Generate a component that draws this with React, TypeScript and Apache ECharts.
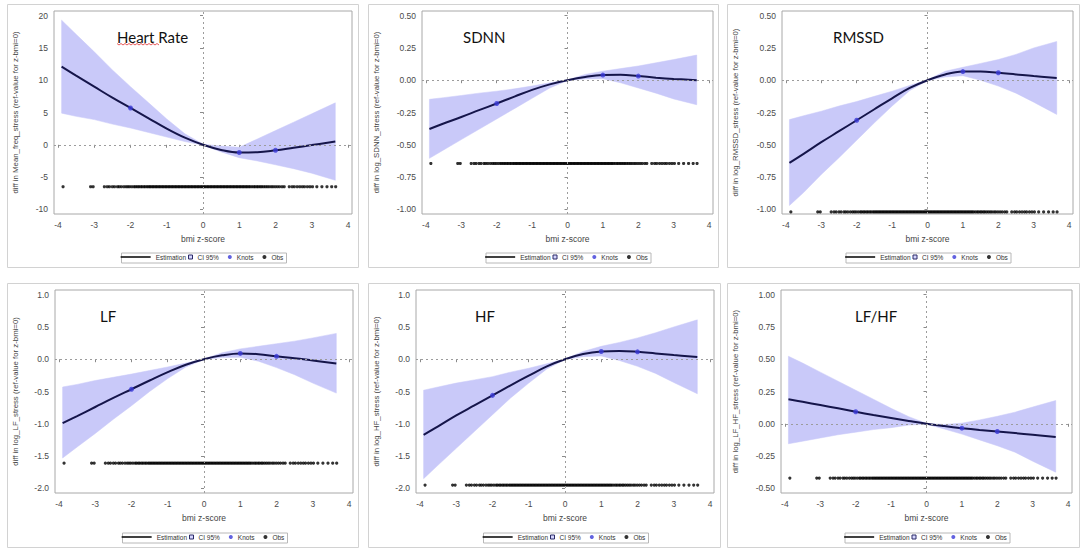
import React, { useEffect, useRef } from "react";
import * as echarts from "echarts";

// ---------- data ----------
const xGrid = [-3.9, -3.5, -3, -2.5, -2, -1.5, -1, -0.5, 0, 0.5, 1, 1.5, 2, 2.5, 3, 3.65];
const knotX = [-2, 1, 2];
const xTicks = [-4, -3, -2, -1, 0, 1, 2, 3, 4];

const panelTitles = ["Heart Rate", "SDNN", "RMSSD", "LF", "HF", "LF/HF"];
const yNames = [
  "diff in Mean_freq_stress (ref-value for z-bmi=0)",
  "diff in log_SDNN_stress (ref-value for z-bmi=0)",
  "diff in log_RMSSD_stress (ref-value for z-bmi=0)",
  "diff in log_LF_stress (ref-value for z-bmi=0)",
  "diff in log_HF_stress (ref-value for z-bmi=0)",
  "diff in log_LF_HF_stress (ref-value for z-bmi=0)",
];

// Heart rate
const hrEst = [12.1, 10.7, 9.0, 7.3, 5.7, 4.1, 2.5, 1.1, 0, -0.8, -1.2, -1.15, -0.85, -0.45, -0.05, 0.5];
const hrUpper = [19.3, 17.1, 14.4, 11.6, 9.0, 6.5, 4.0, 1.7, 0.1, -0.2, -0.4, 0.9, 2.2, 3.5, 4.8, 6.5];
const hrLower = [4.9, 4.4, 3.9, 3.2, 2.6, 1.9, 1.2, 0.5, -0.05, -1.1, -2.0, -2.5, -3.1, -3.7, -4.4, -5.5];
const hrKnots = [5.7, -1.2, -0.85];
const hrObsY = -6.5;
const hrTicks = [-10, -5, 0, 5, 10, 15, 20];

// SDNN
const sdEst = [-0.378, -0.335, -0.285, -0.232, -0.18, -0.127, -0.075, -0.032, 0, 0.025, 0.04, 0.042, 0.032, 0.02, 0.01, 0.0];
const sdUpper = [-0.148, -0.135, -0.118, -0.1, -0.085, -0.067, -0.045, -0.02, 0.002, 0.045, 0.07, 0.09, 0.11, 0.135, 0.16, 0.195];
const sdLower = [-0.605, -0.54, -0.46, -0.38, -0.3, -0.22, -0.14, -0.06, -0.002, 0.01, 0.012, -0.02, -0.06, -0.1, -0.145, -0.19];
const sdKnots = [-0.18, 0.04, 0.032];
const sdObsY = -0.645;
const sdTicks = [-1, -0.75, -0.5, -0.25, 0, 0.25, 0.5];

// RMSSD
const rmEst = [-0.64, -0.57, -0.48, -0.395, -0.31, -0.225, -0.14, -0.06, 0, 0.045, 0.067, 0.068, 0.058, 0.045, 0.032, 0.018];
const rmUpper = [-0.305, -0.275, -0.24, -0.2, -0.165, -0.125, -0.085, -0.04, 0.003, 0.07, 0.1, 0.13, 0.16, 0.2, 0.25, 0.3];
const rmLower = [-0.97, -0.87, -0.73, -0.6, -0.465, -0.33, -0.2, -0.08, -0.003, 0.025, 0.035, 0.0, -0.045, -0.1, -0.17, -0.265];
const rmKnots = [-0.31, 0.067, 0.058];
const rmObsY = -1.02;
const rmTicks = [-1, -0.75, -0.5, -0.25, 0, 0.25, 0.5];

// LF
const lfEst = [-0.99, -0.88, -0.74, -0.6, -0.465, -0.33, -0.2, -0.085, 0, 0.06, 0.09, 0.078, 0.045, 0.015, -0.02, -0.065];
const lfUpper = [-0.43, -0.39, -0.33, -0.28, -0.23, -0.175, -0.12, -0.06, 0.005, 0.1, 0.16, 0.2, 0.24, 0.28, 0.33, 0.4];
const lfLower = [-1.53, -1.36, -1.15, -0.93, -0.72, -0.5, -0.3, -0.12, -0.005, 0.025, 0.03, -0.03, -0.13, -0.24, -0.37, -0.525];
const lfKnots = [-0.465, 0.09, 0.045];
const lfObsY = -1.61;
const lfTicks = [-2, -1.5, -1, -0.5, 0, 0.5, 1];

// HF
const hfEst = [-1.17, -1.04, -0.87, -0.715, -0.56, -0.405, -0.255, -0.11, 0, 0.08, 0.12, 0.128, 0.115, 0.09, 0.065, 0.035];
const hfUpper = [-0.48, -0.43, -0.37, -0.32, -0.27, -0.2, -0.14, -0.07, 0.005, 0.12, 0.2, 0.26, 0.33, 0.41, 0.5, 0.61];
const hfLower = [-1.85, -1.64, -1.38, -1.12, -0.86, -0.6, -0.37, -0.15, -0.005, 0.04, 0.05, -0.02, -0.11, -0.22, -0.36, -0.535];
const hfKnots = [-0.56, 0.12, 0.115];
const hfObsY = -1.95;
const hfTicks = [-2, -1.5, -1, -0.5, 0, 0.5, 1];

// LF/HF
const lhEst = [0.19, 0.17, 0.145, 0.12, 0.093, 0.068, 0.045, 0.022, 0, -0.018, -0.034, -0.048, -0.06, -0.072, -0.085, -0.103];
const lhUpper = [0.523, 0.47, 0.4, 0.33, 0.26, 0.19, 0.12, 0.055, 0.003, -0.005, 0.005, 0.03, 0.058, 0.09, 0.13, 0.18];
const lhLower = [-0.155, -0.135, -0.11, -0.085, -0.065, -0.045, -0.03, -0.01, -0.003, -0.04, -0.08, -0.125, -0.17, -0.22, -0.29, -0.375];
const lhKnots = [0.093, -0.034, -0.06];
const lhObsY = -0.42;
const lhTicks = [-0.5, -0.25, 0, 0.25, 0.5, 0.75, 1];

// observed bmi z-scores (same subjects in every panel)
const obsX = [
  -3.86, -3.1, -3.03, -2.72, -2.64, -2.58, -2.5, -2.44, -2.36, -2.31, -2.25, -2.18, -2.12, -2.07,
  -2.02, -1.96, -1.9, -1.86, -1.81, -1.77, -1.72, -1.68, -1.63, -1.59, -1.54, -1.5, -1.46, -1.42,
  -1.38, -1.34, -1.3, -1.26, -1.22, -1.18, -1.14, -1.1, -1.06, -1.02, -0.98, -0.94, -0.9, -0.86,
  -0.82, -0.78, -0.74, -0.7, -0.66, -0.62, -0.58, -0.54, -0.5, -0.46, -0.42, -0.38, -0.34, -0.3,
  -0.26, -0.22, -0.18, -0.14, -0.1, -0.06, -0.02, 0.02, 0.06, 0.1, 0.14, 0.18, 0.22, 0.26, 0.3,
  0.34, 0.38, 0.42, 0.46, 0.5, 0.54, 0.58, 0.62, 0.66, 0.7, 0.74, 0.78, 0.82, 0.86, 0.9, 0.94,
  0.98, 1.02, 1.06, 1.1, 1.14, 1.18, 1.22, 1.26, 1.3, 1.35, 1.4, 1.44, 1.49, 1.53, 1.58, 1.62,
  1.67, 1.72, 1.77, 1.82, 1.88, 1.93, 1.99, 2.05, 2.11, 2.18, 2.24, 2.38, 2.46, 2.52, 2.6, 2.67,
  2.74, 2.8, 2.88, 2.95, 3.02, 3.14, 3.28, 3.42, 3.55, 3.66,
];

const panels = [
  { est: hrEst, upper: hrUpper, lower: hrLower, knots: hrKnots, obsY: hrObsY, ticks: hrTicks, dec: 0 },
  { est: sdEst, upper: sdUpper, lower: sdLower, knots: sdKnots, obsY: sdObsY, ticks: sdTicks, dec: 2 },
  { est: rmEst, upper: rmUpper, lower: rmLower, knots: rmKnots, obsY: rmObsY, ticks: rmTicks, dec: 2 },
  { est: lfEst, upper: lfUpper, lower: lfLower, knots: lfKnots, obsY: lfObsY, ticks: lfTicks, dec: 1 },
  { est: hfEst, upper: hfUpper, lower: hfLower, knots: hfKnots, obsY: hfObsY, ticks: hfTicks, dec: 1 },
  { est: lhEst, upper: lhUpper, lower: lhLower, knots: lhKnots, obsY: lhObsY, ticks: lhTicks, dec: 2 },
];

// ---------- layout ----------
const W = 1084;
const H = 550;
const frames = [
  [54, 11, 352, 214],
  [422, 11, 713, 214],
  [782, 11, 1073, 214],
  [55, 290, 353, 493],
  [416, 290, 714, 493],
  [781, 290, 1072, 493],
];
const outers = [
  [7, 4, 358, 267],
  [368, 4, 718, 267],
  [727, 4, 1079, 267],
  [7, 283, 358, 547],
  [368, 283, 720, 547],
  [727, 283, 1079, 547],
];
const titlePos = [
  [117, 37],
  [463, 37],
  [833, 37],
  [100, 316],
  [475, 316],
  [855, 316],
];
const legendCenterY = [257.5, 257.5, 257.5, 537.5, 537.5, 537.5];

const FONT = "'Liberation Sans', Arial, sans-serif";
const BAND = "#c9c9f9";
const LINE = "#15154a";
const KNOT = "#3b3bd8";

function buildOption() {
  const grid: any[] = [];
  const xAxis: any[] = [];
  const yAxis: any[] = [];
  const series: any[] = [];
  const legend: any[] = [];
  const title: any[] = [];
  const graphic: any[] = [];

  panels.forEach((p, i) => {
    const [l, t, r, b] = frames[i];
    const [ol, ot, or, ob] = outers[i];
    const fc = (l + r) / 2;
    const yMin = p.ticks[0];
    const yMax = p.ticks[p.ticks.length - 1];
    const yPad = (yMax - yMin) * 0.024;

    grid.push({
      left: l,
      top: t,
      width: r - l,
      height: b - t,
      show: true,
      borderColor: "#a8a8a8",
      borderWidth: 1,
      backgroundColor: "transparent",
    });

    xAxis.push({
      gridIndex: i,
      type: "value",
      min: -4.11,
      max: 4.11,
      axisLine: { show: false },
      splitLine: { show: false },
      axisTick: { show: true, customValues: xTicks, length: 3, lineStyle: { color: "#8a8a8a" } },
      axisLabel: {
        customValues: xTicks,
        fontSize: 8.5,
        color: "#4a4a4a",
        fontFamily: FONT,
        margin: 6,
        formatter: (v: number) => String(v),
      },
      name: "bmi z-score",
      nameLocation: "middle",
      nameGap: 20,
      nameTextStyle: { fontSize: 8.5, color: "#444", fontFamily: FONT },
    });

    const nameGap = l - (ol + 8) - 4;
    yAxis.push({
      gridIndex: i,
      type: "value",
      min: yMin - yPad,
      max: yMax + yPad,
      axisLine: { show: false },
      splitLine: { show: false },
      axisTick: { show: true, customValues: p.ticks, length: 3, lineStyle: { color: "#8a8a8a" } },
      axisLabel: {
        customValues: p.ticks,
        fontSize: 8.5,
        color: "#4a4a4a",
        fontFamily: FONT,
        margin: 6,
        formatter: (v: number) => (Math.abs(v) < 1e-9 ? 0 : v).toFixed(p.dec),
      },
      name: yNames[i],
      nameLocation: "middle",
      nameGap,
      nameTextStyle: { fontSize: 7.8, color: "#444", fontFamily: FONT },
    });

    // confidence band as a polygon built through the axis scales
    const bandRows = xGrid.map((x, k) => [x, p.lower[k], p.upper[k]]);
    series.push({
      type: "custom",
      name: "CI 95%",
      xAxisIndex: i,
      yAxisIndex: i,
      data: bandRows,
      encode: { x: 0, y: [1, 2] },
      silent: true,
      z: 1,
      itemStyle: { color: BAND },
      renderItem: (params: any, api: any) => {
        if (params.dataIndex !== 0) return null;
        const top = bandRows.map((row) => api.coord([row[0], row[2]]));
        const bottom = bandRows.map((row) => api.coord([row[0], row[1]])).reverse();
        return {
          type: "polygon",
          shape: { points: top.concat(bottom) },
          style: { fill: BAND, stroke: BAND, lineWidth: 0.5 },
        };
      },
      markLine: {
        silent: true,
        symbol: "none",
        label: { show: false },
        lineStyle: { color: "#9c9c9c", type: [2, 3], width: 1 },
        data: [{ xAxis: 0 }, { yAxis: 0 }],
      },
    });
    series.push({
      type: "line",
      name: "Estimation",
      xAxisIndex: i,
      yAxisIndex: i,
      data: xGrid.map((x, k) => [x, p.est[k]]),
      symbol: "none",
      smooth: 0.4,
      lineStyle: { color: LINE, width: 2 },
      itemStyle: { color: LINE },
      z: 3,
    });
    series.push({
      type: "scatter",
      name: "Knots",
      xAxisIndex: i,
      yAxisIndex: i,
      data: knotX.map((x, k) => [x, p.knots[k]]),
      symbol: "circle",
      symbolSize: 5,
      itemStyle: { color: KNOT },
      z: 4,
    });
    series.push({
      type: "scatter",
      name: "Obs",
      xAxisIndex: i,
      yAxisIndex: i,
      data: obsX.map((x) => [x, p.obsY]),
      symbol: "circle",
      symbolSize: 3.2,
      itemStyle: { color: "#000" },
      z: 4,
    });

    const legTop = legendCenterY[i] - 4;
    legend.push({
      data: [{ name: "Estimation", icon: "path://M0,0H30V1.6H0Z", itemStyle: { color: "#111" } }],
      right: W - (fc - 17),
      top: legTop,
      padding: 0,
      itemWidth: 30,
      itemHeight: 6,
      selectedMode: false,
      textStyle: { fontSize: 6.5, color: "#333", fontFamily: FONT },
    });
    legend.push({
      data: [
        {
          name: "CI 95%",
          icon: "path://M0,0H10V10H0Z",
          itemStyle: { color: "#d6d6ff", borderColor: "#2a2a66", borderWidth: 1 },
        },
        { name: "Knots", icon: "circle" },
        { name: "Obs", icon: "circle" },
      ],
      left: fc - 15,
      top: legTop,
      padding: 0,
      itemWidth: 4,
      itemHeight: 4,
      itemGap: 9,
      selectedMode: false,
      textStyle: { fontSize: 6.5, color: "#333", fontFamily: FONT },
    });

    graphic.push({
      type: "rect",
      silent: true,
      shape: { x: ol + 0.5, y: ot + 0.5, width: or - ol, height: ob - ot },
      style: { fill: "none", stroke: "#d2d2d2", lineWidth: 1 },
    });
    graphic.push({
      type: "rect",
      silent: true,
      shape: { x: fc - 82 + 0.5, y: legendCenterY[i] - 5 + 0.5, width: 165, height: 10 },
      style: { fill: "none", stroke: "#b8b8b8", lineWidth: 1 },
    });

    title.push({
      text: panelTitles[i],
      left: titlePos[i][0],
      top: titlePos[i][1] - 9,
      padding: 0,
      textStyle: {
        fontSize: 15,
        lineHeight: 18,
        fontWeight: "normal",
        color: "#111",
        fontFamily: "Lato, 'Open Sans', sans-serif",
      },
    });
  });

  // spell-check squiggle under "Heart"
  const squiggle: number[][] = [];
  for (let k = 0; k <= 21; k++) squiggle.push([117 + k * 2, k % 2 === 0 ? 43.5 : 45]);
  graphic.push({
    type: "polyline",
    silent: true,
    shape: { points: squiggle },
    style: { stroke: "#e03030", lineWidth: 0.8, fill: "none" },
  });

  return {
    animation: false,
    backgroundColor: "#fff",
    title,
    grid,
    xAxis,
    yAxis,
    legend,
    series,
    graphic,
  };
}

export default function App() {
  const ref = useRef<HTMLDivElement>(null);
  useEffect(() => {
    if (!ref.current) return;
    const chart = echarts.init(ref.current, null, { renderer: "svg" });
    chart.setOption(buildOption() as any);
    return () => chart.dispose();
  }, []);
  return (
    <div
      ref={ref}
      style={{ position: "fixed", left: 0, top: 0, width: W, height: H, background: "#fff" }}
    />
  );
}
